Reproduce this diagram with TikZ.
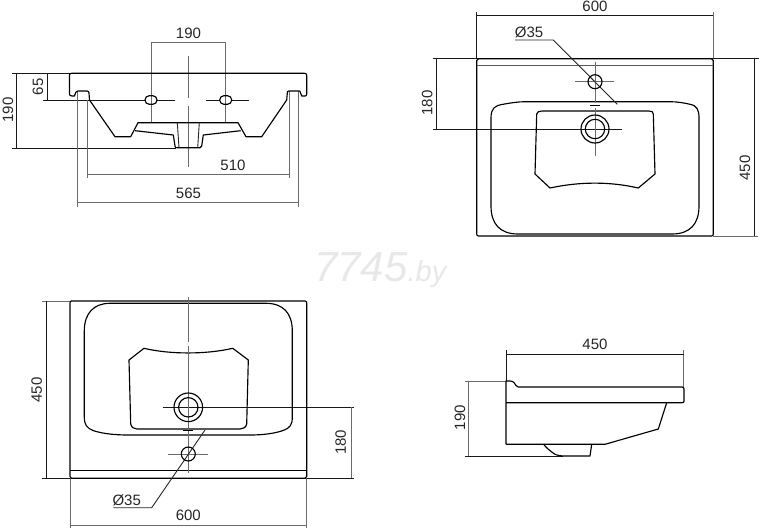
\documentclass[tikz,border=0pt]{standalone}
\usepackage{fontspec}
\setmainfont{Liberation Sans}
\definecolor{dimgrey}{gray}{0.42}
\tikzset{
  outl/.style={line width=1.15pt,black,line join=round},
  thinl/.style={line width=0.9pt,black!85},
  dimk/.style={line width=0.85pt,black!90},
  dimg/.style={line width=0.95pt,dimgrey},
  lab/.style={font=\fontsize{15}{15}\selectfont,text=black!85,inner sep=0pt},
  rlab/.style={lab,rotate=90}
}
\begin{document}
\begin{tikzpicture}[x=1pt,y=-1pt]
\useasboundingbox (0,0) rectangle (760,530);
\fill[white] (0,0) rectangle (760,530);

% watermark
\node[font=\fontsize{42}{42}\selectfont\itshape,text=black!9,inner sep=0pt,anchor=base west] (wm) at (314,281) {7745\fontsize{29}{29}\selectfont.by};

%% ---------- top-left: front section ----------
\draw[dimg] (151,42.3) -- (151,122.7);
\draw[dimg] (225.7,42.3) -- (225.7,122.7);
\draw[dimg] (151,42.3) -- (225.7,42.3);
\draw[dimg] (188.3,55.7) -- (188.3,98);
\draw[dimg] (188.3,106) -- (188.3,166.7);
\draw[dimk] (12,73.3) -- (70,73.3);
\draw[dimk] (12,148.3) -- (176,148.3);
\draw[dimk] (16,73.3) -- (16,148.3);
\draw[dimk] (47.7,73.3) -- (47.7,100);
\draw[dimk] (43,100) -- (145,100);
\draw[dimk] (157,100) -- (175,100);
\draw[dimk] (206,100) -- (220,100);
\draw[dimk] (231,100) -- (249.3,100);
\draw[dimg] (87,100) -- (87,178);
\draw[dimg] (289.3,91) -- (289.3,178);
\draw[dimg] (87,174) -- (289.3,174);
\draw[dimg] (77.7,91) -- (77.7,207);
\draw[dimg] (298.7,91) -- (298.7,207);
\draw[dimg] (77.7,202.3) -- (298.7,202.3);
\draw[outl] (72,96) .. controls (70,96) and (69.5,95) .. (69.5,94) -- (69.5,75.5)
  .. controls (69.5,74) and (70,73.3) .. (71.5,73.3) -- (304.5,73.3)
  .. controls (306,73.3) and (306.7,74) .. (306.7,75.5) -- (306.7,94)
  .. controls (306.7,95) and (306,96) .. (305.3,96) -- (301.7,96)
  -- (300,91.5) .. controls (300,91) and (299,91) .. (298,91) -- (289,91)
  .. controls (287.5,91) and (287.3,92) .. (287.3,93) -- (286.7,100)
  -- (261.7,136.7) -- (246,136.7) -- (238,122.7) -- (138,122.7) -- (130.7,136.7) -- (115,136.7)
  -- (89.5,100) -- (89,93) .. controls (89,92) and (88,91) .. (87,91) -- (78,91)
  .. controls (76,91) and (75,93) .. (74.5,96) -- cycle;
\draw[outl] (135,130.7) -- (173.3,135) -- (175,146) .. controls (175,147.5) and (176,147.7) .. (177,147.7)
  -- (200,147.7) .. controls (201,147.7) and (201.7,147) .. (201.7,146) -- (203.3,135) -- (240.7,130.7);
\draw[thinl] (177.3,122.7) -- (179,147.7);
\draw[thinl] (199.3,122.7) -- (197.7,147.7);
\draw[outl,rounded corners=4.2pt] (145,95.7) rectangle (157,104.3);
\draw[outl,rounded corners=4.2pt] (219.7,95.7) rectangle (231.7,104.3);
\node[lab] (t190a) at (188.5,33) {190};
\node[rlab] (t190b) at (8,110) {190};
\node[rlab] (t65) at (38,86.7) {65};
\node[lab] (t510) at (233,165) {510};
\node[lab] (t565) at (188.5,193) {565};

%% ---------- top-right: plan from above ----------
\draw[dimk] (476.7,12) -- (476.7,58);
\draw[dimg] (713.3,12) -- (713.3,58);
\draw[dimk] (476.7,15.7) -- (713.3,15.7);
\draw[dimk] (433,58.7) -- (759,58.7);
\draw[dimk] (433,129) -- (621.7,129);
\draw[dimk] (436.7,58.7) -- (436.7,129);
\draw[dimk] (754.3,58.7) -- (754.3,236);
\draw[dimg] (713,236) -- (758,236);
\draw[outl] (478.5,58.7) -- (711.5,58.7) .. controls (712.7,58.7) and (713.3,59.5) .. (713.3,60.5)
  -- (713.3,234) .. controls (713.3,235.3) and (712.7,236) .. (711.5,236)
  -- (478.5,236) .. controls (477.3,236) and (476.7,235.3) .. (476.7,234)
  -- (476.7,60.5) .. controls (476.7,59.5) and (477.3,58.7) .. (478.5,58.7) -- cycle;
\draw[line width=1.4pt,black!65] (476.7,65.7) -- (713.3,65.7);
\draw[outl] (491,118) .. controls (491,108) and (495,105.5) .. (503,104.3)
  .. controls (510,103) and (518,101.7) .. (525,101.7) -- (670,101.7)
  .. controls (677,101.7) and (685,103) .. (690,104.3) .. controls (697,105.5) and (699,110) .. (699,118)
  -- (699,206) .. controls (699,224) and (690,234) .. (672,234)
  -- (518,234) .. controls (500,234) and (491,224) .. (491,206) -- cycle;
\draw[outl] (536.7,114) .. controls (537,112) and (539,111) .. (542,111)
  -- (649,111) .. controls (652,111) and (653.3,112) .. (653.3,114)
  -- (655,174) -- (638.3,188) .. controls (610,181.5) and (580,181.5) .. (550,188)
  -- (535,174) -- cycle;
\draw[dimg] (595,61.7) -- (595,103);
\draw[dimg] (595,108) -- (595,155.5);
\draw[dimg] (575,81.7) -- (614.3,81.7);
\draw[line width=1.5pt,black] (590,105.3) -- (600,105.3);
\draw[thinl] (515,40) -- (553.3,40) -- (617.3,104.3);
\draw[outl] (595,81.7) circle (7);
\draw[outl] (595,129) circle (14);
\draw[outl] (595,129) circle (9.7);
\node[lab] (t600a) at (595,6) {600};
\node[lab] (t35a) at (529,32) {Ø35};
\node[rlab] (t180a) at (427.3,103) {180};
\node[rlab] (t450a) at (745,168) {450};

%% ---------- bottom-left: plan from below ----------
\draw[dimg] (42,301) -- (70,301);
\draw[dimk] (42,478.3) -- (354.3,478.3);
\draw[dimk] (162.7,407.3) -- (354.3,407.3);
\draw[dimk] (46.7,301) -- (46.7,478.3);
\draw[dimg] (351,407.3) -- (351,478.3);
\draw[dimg] (70,478) -- (70,528);
\draw[dimg] (306.7,478) -- (306.7,528);
\draw[dimg] (70,525) -- (306.7,525);
\draw[outl] (71.5,301) -- (305,301) .. controls (306,301) and (306.7,301.7) .. (306.7,303)
  -- (306.7,476.5) .. controls (306.7,477.7) and (306,478.3) .. (305,478.3)
  -- (71.5,478.3) .. controls (70.5,478.3) and (70,477.7) .. (70,476.5)
  -- (70,303) .. controls (70,301.7) and (70.5,301) .. (71.5,301) -- cycle;
\draw[outl] (70,470.7) -- (306.7,470.7);
\draw[outl] (84.3,331) .. controls (84.3,313) and (94,303.3) .. (110,303.3)
  -- (266,303.3) .. controls (283,303.3) and (292.3,313) .. (292.3,331)
  -- (292.3,417) .. controls (292.3,425) and (290,428) .. (283,430.5)
  .. controls (276,433) and (265,435) .. (250,435)
  -- (128,435) .. controls (112,435) and (100,433) .. (93,430.5)
  .. controls (87,428) and (84.3,425) .. (84.3,417) -- cycle;
\draw[outl] (144,348.3) .. controls (170,354.5) and (206,354.5) .. (232.7,348.3)
  -- (248.3,360) -- (246.7,424) .. controls (246,427.5) and (243,429) .. (240,429)
  -- (137,429) .. controls (134,429) and (131.5,427.5) .. (130.7,424)
  -- (129,360) -- cycle;
\draw[dimg] (188.3,296.7) -- (188.3,342);
\draw[dimg] (188.3,346) -- (188.3,473.3);
\draw[dimg] (168.3,454) -- (208.3,454);
\draw[line width=1.5pt,black] (183.3,430.7) -- (193.3,430.7);
\draw[thinl] (113.3,507.7) -- (151.7,507.7) -- (205,430);
\draw[outl] (188.3,454) circle (7);
\draw[outl] (188.3,407.3) circle (14.3);
\draw[outl] (188.3,407.3) circle (9.7);
\node[rlab] (t450b) at (36.7,390) {450};
\node[rlab] (t180b) at (340.7,442.3) {180};
\node[lab] (t35b) at (126.7,500.7) {Ø35};
\node[lab] (t600b) at (188.3,515) {600};

%% ---------- bottom-right: side section ----------
\draw[dimk] (506,350) -- (506,381);
\draw[dimg] (683.7,350) -- (683.7,387);
\draw[dimk] (506,354.3) -- (683.7,354.3);
\draw[dimg] (465,381) -- (506,381);
\draw[dimg] (468.7,381) -- (468.7,456);
\draw[dimk] (465,456) -- (563,456);
\draw[outl] (506,444.3) -- (506,381) -- (510,381) .. controls (514,381) and (515,384) .. (516,385.5)
  .. controls (516.5,386.5) and (517,387) .. (518.3,387) -- (682,387)
  .. controls (683.5,387) and (684,388) .. (684,389) -- (684,401)
  .. controls (684,402) and (683.5,402.7) .. (682,402.7) -- (506,402.7);
\draw[outl] (666.7,402.7) -- (658.3,429) -- (605,444.3) -- (506,444.3);
\draw[outl] (544,444.7) .. controls (545,446.5) and (550,451) .. (555,454.3)
  .. controls (558,455.5) and (560,456) .. (563.3,456) -- (590,456) -- (591.7,444.3);
\node[lab] (t450c) at (595,344.7) {450};
\node[rlab] (t190c) at (460,417.7) {190};
\end{tikzpicture}
\end{document}
